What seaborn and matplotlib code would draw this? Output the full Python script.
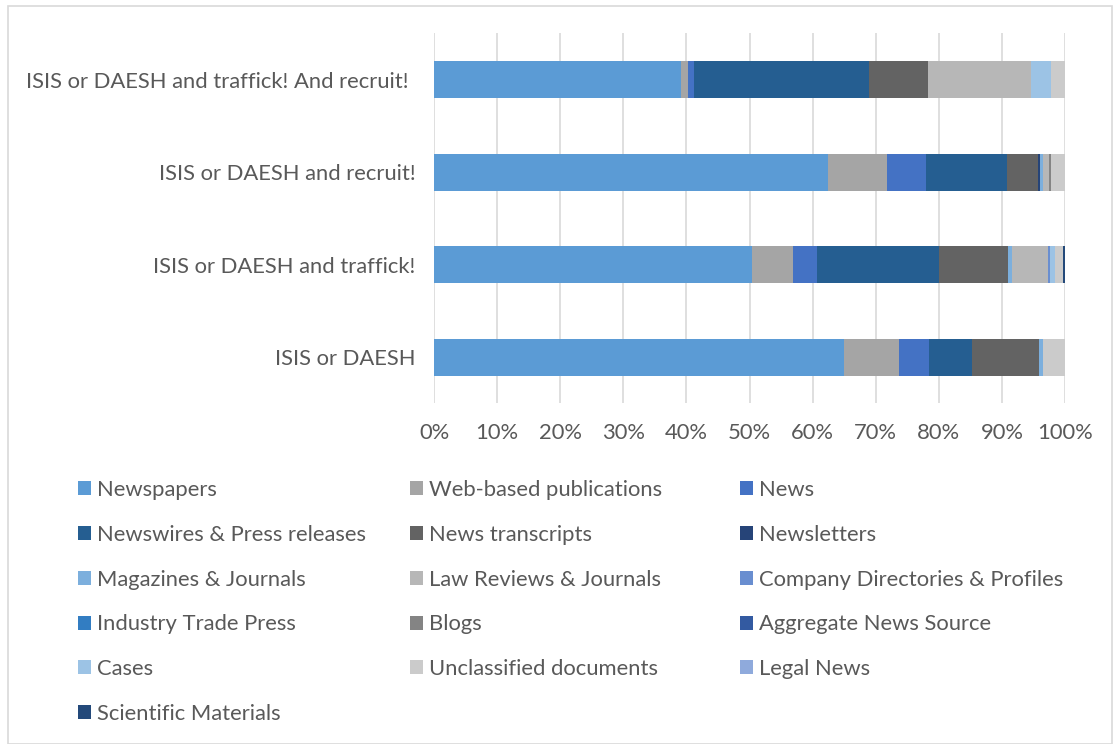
import matplotlib
matplotlib.use("Agg")
import matplotlib.pyplot as plt
import matplotlib.transforms as mtransforms
from matplotlib.patches import Patch, Rectangle
from matplotlib.ticker import PercentFormatter
import pandas as pd
import seaborn as sns

queries = ["ISIS or DAESH and traffick! And recruit!",
           "ISIS or DAESH and recruit!",
           "ISIS or DAESH and traffick!",
           "ISIS or DAESH"]

sources = ["Newspapers", "Web-based publications", "News",
           "Newswires & Press releases", "News transcripts", "Newsletters",
           "Magazines & Journals", "Law Reviews & Journals", "Company Directories & Profiles",
           "Industry Trade Press", "Blogs", "Aggregate News Source",
           "Cases", "Unclassified documents", "Legal News",
           "Scientific Materials"]

colors = ["#5b9bd5", "#a5a5a5", "#4472c4",
          "#255e91", "#636363", "#264478",
          "#7cafdd", "#b7b7b7", "#698ed0",
          "#327dc2", "#848484", "#335aa1",
          "#9cc3e5", "#cbcbcb", "#8faadc",
          "#23497a"]

# share (%) per source type, same order as `sources`
traffick_recruit = [39.1, 1.1, 0.95, 27.8, 9.35, 0, 0, 16.3, 0, 0, 0, 0, 3.2, 2.2, 0, 0]
recruit = [62.4, 9.3, 6.3, 12.8, 4.9, 0.3, 0.5, 0.9, 0, 0, 0.3, 0, 0, 2.2, 0.1, 0]
traffick = [50.4, 6.5, 3.75, 19.4, 10.9, 0, 0.6, 5.7, 0.3, 0, 0, 0, 0.8, 1.3, 0, 0.3]
isis_daesh = [64.9, 8.7, 4.85, 6.75, 10.7, 0, 0.6, 0, 0, 0, 0, 0, 0, 3.5, 0, 0]

df = pd.DataFrame([traffick_recruit, recruit, traffick, isis_daesh],
                  index=queries, columns=sources)
df = df.div(df.sum(axis=1), axis=0) * 100
cum = df.cumsum(axis=1)

sns.set_theme(style="white")
plt.rcParams["font.family"] = ["Lato", "DejaVu Sans"]
text_col = "#595959"
fs = 15.8

fig = plt.figure(figsize=(11.13, 7.44), dpi=100)
ax = fig.add_axes([0.390, 0.458, 0.567, 0.497])

# stacked bars: draw cumulative totals from the last source backwards
for src, col in zip(reversed(sources), reversed(colors)):
    sns.barplot(x=cum[src].values, y=queries, color=col, orient="h",
                width=0.4, linewidth=0, saturation=1, ax=ax)

ax.set_xlim(0, 100)
ax.xaxis.set_major_formatter(PercentFormatter(decimals=0))
ax.set_xticks(range(0, 101, 10))
ax.grid(axis="x", color="#d9d9d9", linewidth=1.2)
ax.set_axisbelow(True)
for s in ax.spines.values():
    s.set_visible(False)
ax.tick_params(axis="both", length=0, labelsize=fs, colors=text_col)
ax.tick_params(axis="x", pad=14)
ax.tick_params(axis="y", pad=13.5)
ax.set_xlabel("")
ax.set_ylabel("")

# the long top label sits a bit further left in the original
lbl = ax.get_yticklabels()[0]
lbl.set_transform(lbl.get_transform() +
                  mtransforms.ScaledTranslation(-7 / 100, 0, fig.dpi_scale_trans))

# legend: three equal-width columns, filled row by row
handles = [Patch(facecolor=c, edgecolor="none") for c in colors]
col_x = [67, 399, 729]
for k, x in enumerate(col_x):
    idx = list(range(k, len(sources), 3))
    fig.legend([handles[i] for i in idx], [sources[i] for i in idx],
               loc="upper left", bbox_to_anchor=(x / 1113, 1 - 469 / 744),
               frameon=False, fontsize=fs, labelcolor=text_col, borderpad=0,
               handlelength=0.6, handleheight=0.6, handletextpad=0.25,
               labelspacing=1.13)

fig.patches.append(Rectangle((8 / 1113, 0.5 / 744), 1104 / 1113, 738 / 744,
                             transform=fig.transFigure, fill=False,
                             edgecolor="#d9d9d9", linewidth=1.2))
fig.savefig("out.png", dpi=100)
